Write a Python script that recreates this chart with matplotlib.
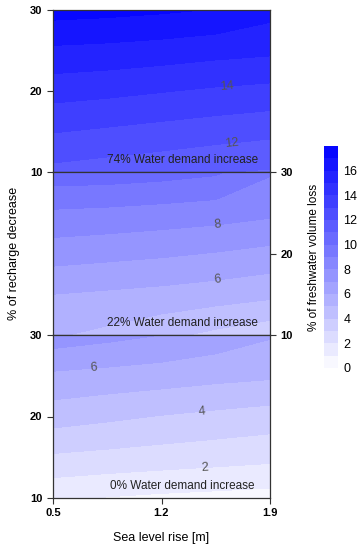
import numpy as np
import matplotlib
matplotlib.use("Agg")
import matplotlib.pyplot as plt
from matplotlib.colors import LinearSegmentedColormap

plt.rcParams['font.family'] = ['Liberation Sans', 'DejaVu Sans']

# ---------------- data ----------------
sea_level = [0.5, 0.85, 1.2, 1.55, 1.9]          # x: sea level rise [m]
recharge = [10, 15, 20, 25, 30]                  # y: % of recharge decrease
# rows = recharge (10 -> 30), columns = sea level (0.5 -> 1.9)
loss_74 = [
    [11.70, 11.50, 11.30, 11.05, 10.90],
    [13.05, 12.85, 12.65, 12.45, 12.25],
    [14.40, 14.25, 14.05, 13.85, 13.70],
    [15.80, 15.70, 15.55, 15.35, 15.20],
    [17.40, 17.30, 17.15, 16.95, 16.35],
]
loss_22 = [
    [5.10, 4.75, 4.25, 3.75, 3.30],
    [6.00, 5.85, 5.70, 5.50, 5.25],
    [7.45, 7.30, 7.15, 6.95, 6.70],
    [8.85, 8.75, 8.60, 8.45, 8.20],
    [10.60, 10.55, 10.40, 10.15, 9.10],
]
loss_0 = [
    [1.15, 0.95, 0.80, 0.70, 0.60],
    [2.85, 2.70, 2.55, 2.40, 2.25],
    [4.45, 4.20, 3.95, 3.75, 3.55],
    [5.80, 5.65, 5.50, 5.30, 5.15],
    [7.60, 7.30, 7.00, 6.60, 6.10],
]
scenario_labels = ['74% Water demand increase', '22% Water demand increase',
                   '0% Water demand increase']
contour_label_levels = [[12, 14], [6, 8], [2, 4, 6]]
y_ticks = [10, 20, 30]
x_ticks = [0.5, 1.2, 1.9]
x_tick_labels = ['0.5', '1.2', '1.9']
cbar_ticks = [0, 2, 4, 6, 8, 10, 12, 14, 16]
levels = np.arange(0, 19, 1)

# ---------------- figure ----------------
W, H = 363, 550
fig = plt.figure(figsize=(W / 100, H / 100), dpi=100)

def fx(px):
    return px / W

def fy(py):
    return 1 - py / H

left, right = 53, 270
panel_px = [(10, 172), (172, 335), (335, 498)]
cmap = LinearSegmentedColormap.from_list('wb', ['#ffffff', '#0000ff'])

label_pos = [
    [(1.65, 13.6), (1.62, 20.9)],
    [(1.56, 16.6), (1.56, 23.7)],
    [(1.48, 13.55), (1.46, 20.55), (0.76, 25.95)],
]

X, Y = np.meshgrid(sea_level, recharge)
spine_col = '#333333'
axes = []
cf = None
for i, (z, (top, bot)) in enumerate(zip([loss_74, loss_22, loss_0], panel_px)):
    ax = fig.add_axes([fx(left), fy(bot), fx(right - left), (bot - top) / H])
    Z = np.array(z)
    cf = ax.contourf(X, Y, Z, levels=levels, cmap=cmap, vmin=0, vmax=18)
    cs = ax.contour(X, Y, Z, levels=contour_label_levels[i], colors='#555555',
                    linewidths=0)
    ax.clabel(cs, fmt='%d', manual=label_pos[i], inline=False, fontsize=9,
              colors='#555555')
    ax.set_xlim(0.5, 1.9)
    ax.set_ylim(10, 30)
    for s in ax.spines.values():
        s.set_color(spine_col)
        s.set_linewidth(0.9)
    ax.tick_params(direction='out', length=4, width=0.8, color=spine_col,
                   labelsize=8)
    ax.text(0.597, 0.075, scenario_labels[i], transform=ax.transAxes,
            ha='center', va='center', fontsize=8.5, color='#222222')
    if i == 1:
        ax.yaxis.tick_right()
    ax.set_yticks(y_ticks)
    ax.set_yticklabels([str(t) for t in y_ticks], fontweight='bold')
    if i == 2:
        ax.set_xticks(x_ticks)
        ax.set_xticklabels(x_tick_labels, fontweight='bold')
        ax.set_xlabel('Sea level rise [m]', fontsize=9, labelpad=10)
    else:
        ax.set_xticks([])
    axes.append(ax)

fig.text(fx(14), fy(253), '% of recharge decrease', rotation=90,
         ha='center', va='center', fontsize=9)

cax = fig.add_axes([fx(324), fy(368), fx(14), 222 / H])
cb = fig.colorbar(cf, cax=cax, ticks=cbar_ticks)
cb.outline.set_visible(False)
cax.tick_params(length=0, labelsize=9, pad=4)
cax.yaxis.set_label_position('left')
cb.set_label('% of freshwater volume loss', fontsize=8.5, labelpad=3)

fig.savefig('out.png', dpi=100)
